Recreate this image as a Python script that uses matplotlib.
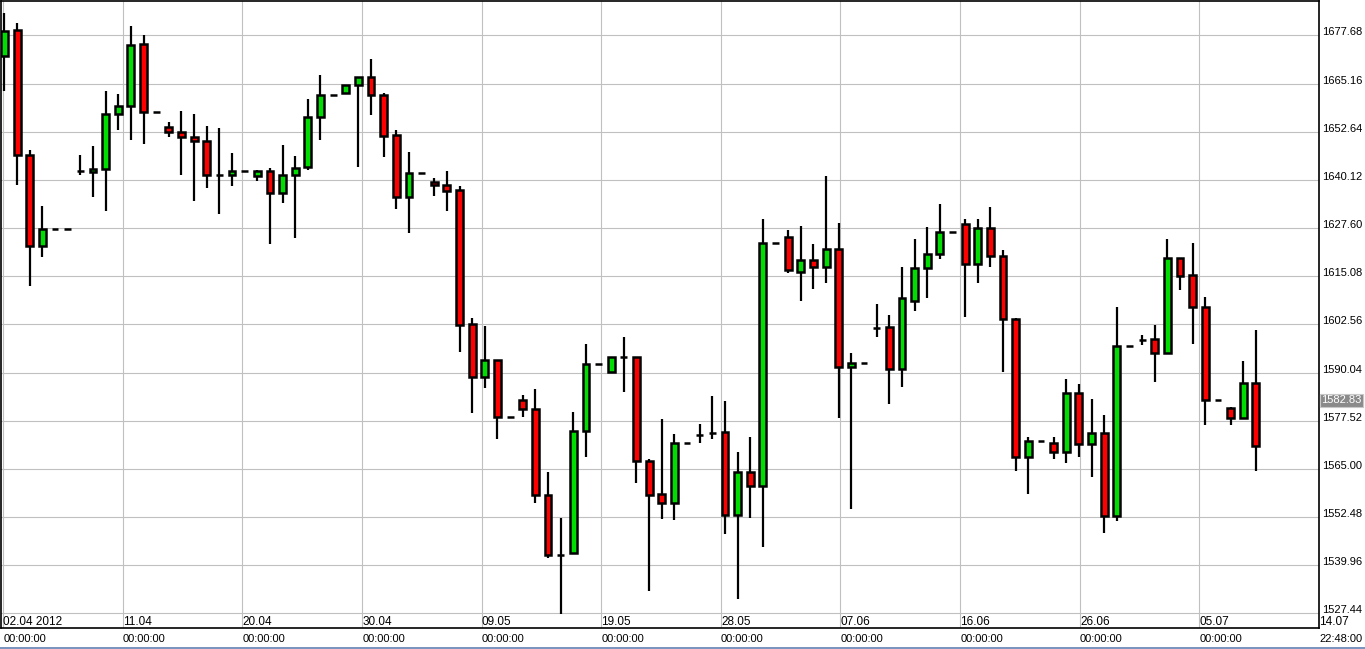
import numpy as np
import matplotlib
matplotlib.use("Agg")
import matplotlib.pyplot as plt
import matplotlib.transforms as mtransforms

plt.rcParams['font.family'] = ['Liberation Sans', 'DejaVu Sans']

# daily bars, 02.04.2012 .. 10.07.2012
opens = [1672.23, 1678.98, 1646.60, 1622.87, 1627.38, 1627.38, 1642.36, 1642.10, 1642.87, 1657.16,
         1659.24, 1675.43, 1657.77, 1653.87, 1652.57, 1651.36, 1650.23, 1641.49, 1641.32, 1642.44,
         1641.06, 1642.44, 1636.73, 1641.40, 1643.48, 1656.38, 1662.10, 1662.62, 1664.69, 1666.77,
         1662.10, 1651.79, 1635.60, 1641.84, 1639.58, 1638.81, 1637.50, 1602.62, 1588.85, 1593.34,
         1578.46, 1582.80, 1580.62, 1558.28, 1542.62, 1543.13, 1574.82, 1592.30, 1590.15, 1594.05,
         1594.05, 1567.11, 1558.38, 1556.20, 1571.78, 1573.86, 1574.38, 1574.56, 1552.99, 1564.25,
         1560.54, 1623.65, 1625.29, 1616.30, 1619.32, 1617.42, 1622.10, 1591.45, 1592.56, 1601.65,
         1601.91, 1590.93, 1608.77, 1617.16, 1620.80, 1626.69, 1628.67, 1618.38, 1627.63, 1620.28,
         1604.00, 1568.15, 1572.30, 1571.78, 1569.37, 1584.77, 1571.45, 1574.30, 1552.74, 1596.90,
         1598.46, 1598.72, 1595.16, 1619.76, 1615.42, 1607.11, 1582.95, 1580.87, 1578.28, 1587.37]
highs = [1683.57, 1680.97, 1647.98, 1633.44, 1627.38, 1627.38, 1646.68, 1648.85, 1663.13, 1662.53,
         1680.02, 1677.85, 1657.77, 1655.26, 1657.94, 1657.33, 1654.22, 1653.70, 1647.20, 1642.44,
         1642.79, 1643.31, 1649.28, 1646.42, 1661.06, 1667.46, 1662.10, 1664.69, 1666.77, 1671.62,
         1662.79, 1653.18, 1647.46, 1641.84, 1640.71, 1642.53, 1638.64, 1604.36, 1602.10, 1593.34,
         1578.46, 1584.10, 1585.65, 1564.10, 1552.15, 1579.68, 1597.60, 1592.30, 1594.05, 1599.24,
         1594.05, 1567.47, 1578.02, 1573.97, 1571.78, 1576.56, 1583.91, 1582.62, 1569.29, 1573.34,
         1629.89, 1623.65, 1627.21, 1628.07, 1623.58, 1641.06, 1629.03, 1595.01, 1592.56, 1607.99,
         1604.95, 1617.60, 1624.69, 1627.81, 1633.78, 1626.69, 1629.97, 1630.07, 1633.18, 1622.02,
         1604.25, 1573.18, 1572.30, 1573.18, 1588.25, 1586.95, 1583.06, 1578.90, 1607.03, 1596.90,
         1599.76, 1602.54, 1624.87, 1619.76, 1623.84, 1609.63, 1582.95, 1581.06, 1592.93, 1601.24]
lows = [1663.13, 1638.89, 1612.66, 1620.10, 1627.38, 1627.38, 1641.49, 1635.69, 1632.05, 1653.09,
        1650.58, 1649.54, 1657.77, 1651.27, 1641.49, 1634.65, 1638.03, 1631.27, 1638.55, 1642.44,
        1639.93, 1623.48, 1634.22, 1625.04, 1642.79, 1650.58, 1662.10, 1662.62, 1643.48, 1656.99,
        1646.08, 1632.57, 1626.34, 1641.84, 1635.95, 1632.05, 1595.42, 1579.58, 1585.91, 1572.67,
        1578.46, 1578.38, 1556.05, 1541.76, 1527.21, 1543.13, 1568.15, 1592.30, 1590.15, 1585.03,
        1561.39, 1533.34, 1551.89, 1551.71, 1571.78, 1571.63, 1572.67, 1547.99, 1531.11, 1552.15,
        1544.77, 1623.65, 1615.94, 1608.67, 1611.78, 1613.34, 1578.12, 1554.48, 1592.56, 1599.32,
        1581.84, 1586.17, 1606.17, 1609.55, 1619.68, 1626.69, 1604.62, 1613.34, 1617.50, 1590.22,
        1564.51, 1558.38, 1572.30, 1567.63, 1566.43, 1567.99, 1562.80, 1548.25, 1551.37, 1596.90,
        1597.16, 1587.47, 1595.16, 1611.45, 1597.60, 1576.46, 1582.95, 1576.46, 1578.28, 1564.51]
closes = [1678.72, 1646.60, 1622.87, 1627.38, 1627.38, 1627.38, 1642.36, 1643.05, 1657.25, 1659.33,
          1675.26, 1657.68, 1657.77, 1652.49, 1651.19, 1650.15, 1641.32, 1641.49, 1642.44, 1642.44,
          1642.44, 1636.73, 1641.40, 1643.22, 1656.47, 1662.10, 1662.10, 1664.69, 1666.77, 1662.10,
          1651.45, 1635.60, 1641.84, 1641.84, 1638.72, 1637.33, 1602.54, 1588.85, 1593.34, 1578.46,
          1578.46, 1580.54, 1558.28, 1542.62, 1542.62, 1574.90, 1592.30, 1592.30, 1594.05, 1594.05,
          1567.03, 1558.20, 1556.12, 1571.78, 1571.78, 1573.86, 1574.38, 1552.99, 1564.25, 1560.54,
          1623.65, 1623.65, 1616.64, 1619.32, 1617.42, 1622.17, 1591.45, 1592.56, 1592.56, 1601.65,
          1590.93, 1609.44, 1617.24, 1620.88, 1626.69, 1626.69, 1618.20, 1627.63, 1620.28, 1604.05,
          1568.15, 1572.30, 1572.30, 1569.37, 1584.77, 1571.45, 1574.30, 1552.74, 1596.90, 1596.90,
          1598.46, 1595.16, 1619.76, 1615.08, 1607.11, 1582.95, 1582.95, 1578.28, 1587.37, 1571.01]

date_labels = ['02.04 2012', '11.04', '20.04', '30.04', '09.05', '19.05',
               '28.05', '07.06', '16.06', '26.06', '05.07', '14.07']
time_labels = ['00:00:00'] * 11 + ['22:48:00']
price_ticks = [1527.44, 1539.96, 1552.48, 1565.00, 1577.52, 1590.04, 1602.56,
               1615.08, 1627.60, 1640.12, 1652.64, 1665.16, 1677.68]
last_price = 1582.83

o = np.array(opens)
h = np.array(highs)
l = np.array(lows)
c = np.array(closes)
x = np.arange(len(o))

W, H = 1365, 649
fig = plt.figure(figsize=(W / 100, H / 100), dpi=100)
ax = fig.add_axes([1 / W, 1 - 628 / H, 1318 / W, 627.5 / H])

grid_start, grid_step = -0.12, 9.465
ax.set_xlim(-0.276, grid_start + 11 * grid_step)
ax.set_ylim(1523.65, 1686.77)

green = '#00dd00'
red = '#ff0000'
colors = [green if cc > oo else red for oo, cc in zip(o, c)]

ax.vlines(x, l, h, color='black', lw=1.6, zorder=3)
ax.bar(x, np.abs(c - o), bottom=np.minimum(o, c), width=0.54, color=colors,
       edgecolor='black', linewidth=1.8, zorder=4)

# grid
grid_x = grid_start + grid_step * np.arange(len(date_labels))
for gx in grid_x:
    ax.axvline(gx, color='#c0c0c0', lw=0.8, zorder=1)
for py in price_ticks:
    ax.axhline(py, color='#c0c0c0', lw=0.8, zorder=1)

# right price axis
ax.yaxis.tick_right()
ax.set_yticks(price_ticks)
ax.set_yticklabels(['%.2f' % p for p in price_ticks])
ax.tick_params(axis='y', length=0, pad=2.5, labelsize=8)
for t in ax.get_yticklabels():
    t.set_verticalalignment('baseline')
ax.set_xticks([])

for s in ax.spines.values():
    s.set_linewidth(1.2)
    s.set_color('black')

# date labels inside the plot, time labels below it
trans = mtransforms.blended_transform_factory(ax.transData, ax.transAxes)
for gx, dl, tl in zip(grid_x, date_labels, time_labels):
    ax.text(gx + 0.02, 0.004, dl, transform=trans, fontsize=8.5,
            ha='left', va='baseline', clip_on=False)
    ax.text(gx + 0.02, -0.022, tl, transform=trans, fontsize=8,
            ha='left', va='baseline', clip_on=False)

# current price box
trans_y = mtransforms.blended_transform_factory(ax.transAxes, ax.transData)
ax.text(1.0018, last_price, '%.2f' % last_price, transform=trans_y, fontsize=8,
        color='white', ha='left', va='center', clip_on=False,
        bbox=dict(boxstyle='square,pad=0.12', facecolor='#8a8a8a', edgecolor='#c8c8c8', lw=0.8))

# window frame line at the bottom
fig.patches.append(plt.Rectangle((0, 0), 1, 2 / H, transform=fig.transFigure,
                                 facecolor='#7c94c0', edgecolor='none'))

fig.savefig('out.png', dpi=100)
